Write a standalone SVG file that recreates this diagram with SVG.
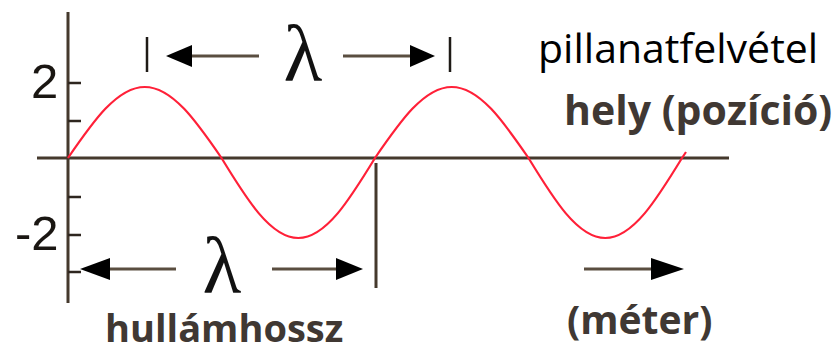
<svg xmlns="http://www.w3.org/2000/svg" width="834" height="352" viewBox="0 0 834 352">
<style>
.axis{stroke:#45392d;stroke-width:3;fill:none}
.tick{stroke:#2e261f;stroke-width:2.5;fill:none}
.shaft{stroke:#5a4e40;stroke-width:3;fill:none}
.bar{stroke:#1e1a16;stroke-width:2.5;fill:none}
.head{fill:#000}
.wave{stroke:#ff2038;stroke-width:2.2;fill:none}
.num{font-family:"Liberation Sans",Arial,sans-serif;font-size:49px;fill:#1a1612}
.lam{font-family:"Liberation Serif","DejaVu Serif",serif;font-size:80px;fill:#111}
.lbl{font-family:"Open Sans","Noto Sans",sans-serif;font-size:41px;fill:#000}
.blbl{font-family:"Open Sans","Noto Sans",sans-serif;font-weight:bold;fill:#403833}
</style>
<g id="axes">
<line class="axis" x1="68" y1="12" x2="68" y2="303"/>
<line class="axis" x1="37" y1="158" x2="729" y2="158"/>
<path class="tick" d="M68,83H81M68,121H81M68,197H81M68,235H81M68,272H81"/>
<text class="num" x="31" y="98">2</text>
<text class="num" x="15" y="250">-2</text>
</g>
<g id="wave">
<path class="wave" d="M68,158C93.03,121.63 116.97,87 144.75,87C172.53,87 196.47,121.63 221.5,158C246.53,198.98 270.47,238 298.25,238C326.03,238 349.97,198.98 375,158C400.03,121.63 423.97,87 451.75,87C479.53,87 503.47,121.63 528.5,158C553.53,198.98 577.47,238 605.25,238C633.03,238 656.97,198.98 682,158L686,152"/>
</g>
<g id="connectors">
<line class="bar" x1="147" y1="37" x2="147" y2="72"/>
<line class="shaft" x1="180" y1="56" x2="259" y2="56"/>
<polygon class="head" points="166,56 192,45 192,67"/>
<line class="shaft" x1="343" y1="56" x2="415" y2="56"/>
<polygon class="head" points="435,56 410,45 410,67"/>
<line class="bar" x1="450" y1="37" x2="450" y2="72"/>
<line class="shaft" x1="95" y1="269" x2="176" y2="269"/>
<polygon class="head" points="80,269 110,258 110,280"/>
<line class="shaft" x1="272" y1="269" x2="345" y2="269"/>
<polygon class="head" points="363,269 336,258 336,280"/>
<line class="axis" x1="376" y1="163" x2="376" y2="288"/>
<line class="shaft" x1="584" y1="269" x2="660" y2="269"/>
<polygon class="head" points="684,269 651,258 651,280"/>
</g>
<g id="lambda-top"><text class="lam" x="303" y="81" text-anchor="middle">λ</text></g>
<g id="lambda-bottom"><text class="lam" x="222" y="293" text-anchor="middle">λ</text></g>
<g id="label-snapshot"><text class="lbl" x="538" y="63">pillanatfelvétel</text></g>
<g id="label-position"><text class="blbl" x="564" y="125" font-size="41">hely (pozíció)</text></g>
<g id="label-wavelength"><text class="blbl" x="105" y="342" font-size="38">hullámhossz</text></g>
<g id="label-unit"><text class="blbl" x="567" y="334" font-size="39">(méter)</text></g>
</svg>
